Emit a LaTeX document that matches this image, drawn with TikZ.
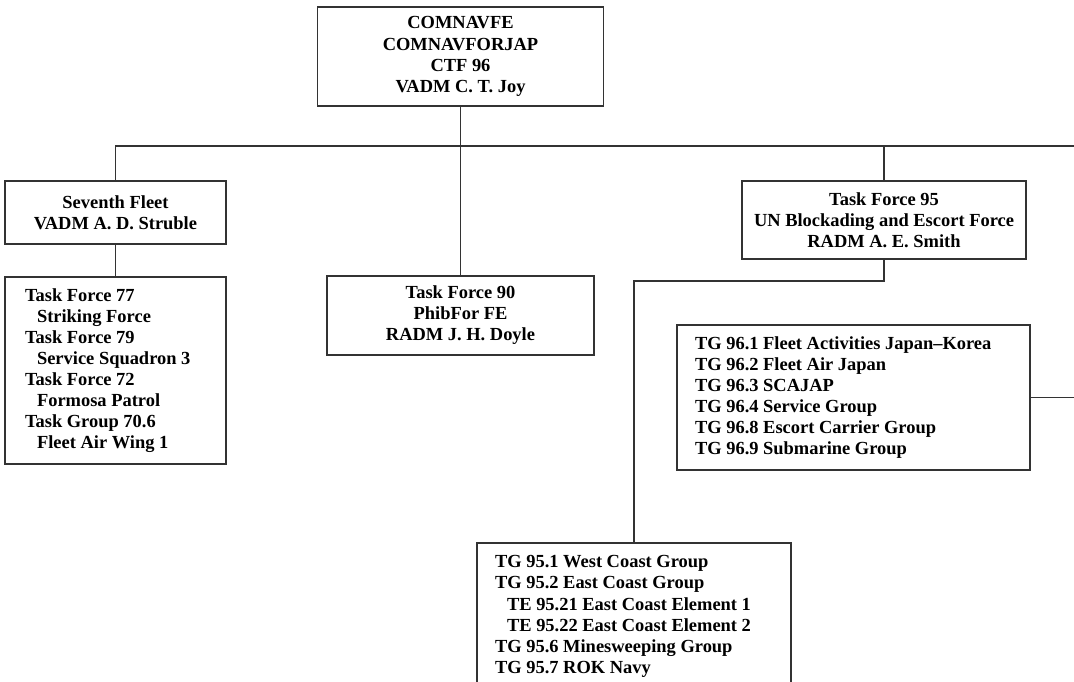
\documentclass[tikz,border=0pt]{standalone}
\usepackage{fontspec}
\setmainfont{Liberation Serif}
\tikzset{
  unitbox/.style={rectangle,draw=black!80,line width=0.8pt,outer sep=0pt,align=center,
    font=\fontsize{10.5}{12}\selectfont\bfseries},
  listbox/.style={unitbox,align=flush left,inner xsep=0.36cm},
  wire/.style={draw=black!80,line width=0.8pt}
}
\newcommand{\sub}{\hspace*{0.24cm}}
\begin{document}
\begin{tikzpicture}[x=0.02cm,y=-0.02cm]
        \path[use as bounding box,clip] (0,0) rectangle (1074,682);
        \node[unitbox,minimum width=5.72cm,minimum height=1.98cm] at (460.5,56.5) (navfe) {COMNAVFE\\COMNAVFORJAP\\CTF 96\\VADM C. T. Joy};
        \node[unitbox,minimum width=4.42cm,minimum height=1.26cm] at (115.5,212.5) (seventh) {Seventh Fleet\\VADM A. D. Struble};
        \node[listbox,inner xsep=0.4cm,text width=3.62cm,minimum height=3.74cm] at (115.5,370.5) (tflist) {Task Force 77\\\sub Striking Force\\Task Force 79\\\sub Service Squadron 3\\Task Force 72\\\sub Formosa Patrol\\Task Group 70.6\\\sub Fleet Air Wing 1};
        \node[unitbox,minimum width=5.34cm,minimum height=1.58cm] at (460.5,315.5) (tf90) {Task Force 90\\PhibFor FE\\RADM J. H. Doyle};
        \node[unitbox,minimum width=5.68cm,minimum height=1.56cm] at (884,220) (tf95) {Task Force 95\\UN Blockading and Escort Force\\RADM A. E. Smith};
        \node[listbox,text width=6.34cm,minimum height=2.9cm] at (853.5,397.5) (tg96) {TG 96.1 Fleet Activities Japan--Korea\\TG 96.2 Fleet Air Japan\\TG 96.3 SCAJAP\\TG 96.4 Service Group\\TG 96.8 Escort Carrier Group\\TG 96.9 Submarine Group};
        \node[listbox,text width=5.56cm,minimum height=2.94cm] at (634,616.5) (tg95) {TG 95.1 West Coast Group\\TG 95.2 East Coast Group\\\sub TE 95.21 East Coast Element 1\\\sub TE 95.22 East Coast Element 2\\TG 95.6 Minesweeping Group\\TG 95.7 ROK Navy};
        % free ends at the right edge
        \coordinate (busL) at (115.5,146);
        \coordinate (busR) at (1074,146);
        \coordinate (tgend) at (1074,397.5);
        \draw[wire] (seventh.north) -- (busL) -- (busR);
        \draw[wire] (navfe.south) -- (tf90.north);
        \draw[wire] (tf95.north) -- (tf95.north |- busL);
        \draw[wire] (seventh.south) -- (tflist.north);
        \draw[wire] (tf95.south) -- ++(0,22) -| (tg95.north);
        \draw[wire] (tg96.east) -- (tgend);
    \end{tikzpicture}
\end{document}
